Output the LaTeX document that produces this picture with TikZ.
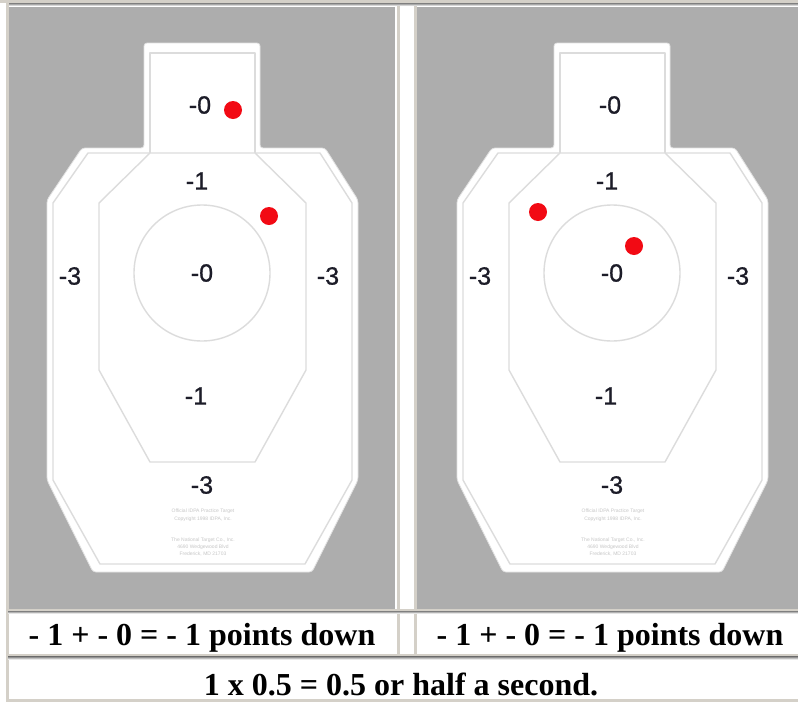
\documentclass[tikz,border=0pt]{standalone}
\usepackage{fontspec}
\setmainfont{Liberation Serif}
\newfontfamily\lblfont[FakeBold=0.8]{Liberation Sans}
\newfontfamily\notefont{Liberation Sans}
\usetikzlibrary{positioning}
\definecolor{bg}{HTML}{ADADAD}
\definecolor{frame}{HTML}{D4D0C8}
\definecolor{shade}{HTML}{858585}
\definecolor{zone}{HTML}{DCDCDC}
\definecolor{hit}{HTML}{F20A14}
\definecolor{ink}{HTML}{1C1C28}

\begin{document}
\begin{tikzpicture}[x=1pt,y=-1pt,
  lbl/.style={font=\lblfont\fontsize{25}{25}\selectfont,text=ink,inner sep=0pt},
  fine/.style={font=\notefont\fontsize{5}{5}\selectfont,text=black!22,inner sep=0pt},
  captext/.style={font=\bfseries\fontsize{32}{32}\selectfont,inner sep=0pt,anchor=base},
  shot/.style={circle,fill=hit,minimum size=18pt,inner sep=0pt},
  zoneline/.style={draw=zone,line width=1.4pt,line join=round}]
\useasboundingbox (0,0) rectangle (798,702);
\fill[white] (0,0) rectangle (798,702);
% table frame
\fill[frame] (0,0) rectangle (798,3);
\fill[shade] (7,3) rectangle (798,6);
\fill[frame] (6,3) rectangle (8.5,702);
\fill[frame] (6,699) rectangle (798,702);
\fill[bg] (9,7) rectangle (395,609);
\fill[bg] (417,7) rectangle (798,609);
\fill[frame] (396.5,6) rectangle (399.5,657);
\fill[frame] (413.5,6) rectangle (416.5,657);
\fill[frame] (8,609) rectangle (798,611);
\fill[shade] (8,611) rectangle (798,613.5);
\fill[frame] (8,654) rectangle (798,656.5);
\fill[shade] (8,656.5) rectangle (798,659.5);
% targets
\foreach \ox/\p in {0/L,410/R}{
\begin{scope}[xshift=\ox]
\filldraw[fill=white,draw=white!88!black,line width=0.8pt,rounded corners=3pt]
  (144,43) -- (260,43) -- (260,148) -- (325,148) -- (358,200) -- (358,480)
  -- (312,572) -- (93,572) -- (47,480) -- (47,200) -- (82,148) -- (144,148) -- cycle;
\draw[zoneline] (150,153) -- (150,53) -- (255,53) -- (255,153);
\draw[zoneline] (88,153) -- (320,153) -- (352,203) -- (352,480) -- (305,564)
  -- (100,564) -- (53,480) -- (53,203) -- cycle;
\draw[zoneline] (150,153) -- (99,203) -- (99,370) -- (150,462) -- (255,462)
  -- (306,370) -- (306,203) -- (255,153);
\draw[zoneline] (202,273) circle (68);
\node[lbl] (\p-head) at (200,105) {-0};
\node[lbl] (\p-upper) at (197,181) {-1};
\node[lbl] (\p-left) at (70,276) {-3};
\node[lbl] (\p-centre) at (202,273) {-0};
\node[lbl] (\p-right) at (328,276) {-3};
\node[lbl] (\p-lower) at (196,396) {-1};
\node[lbl] (\p-bottom) at (202,485) {-3};
\node[fine] (\p-note1) at (203,511) {Official IDPA Practice Target};
\node[fine] (\p-note2) at (203,519) {Copyright 1998 IDPA, Inc.};
\node[fine] (\p-note3) at (203,540) {The National Target Co., Inc.};
\node[fine] (\p-note4) at (203,547) {4690 Wedgewood Blvd};
\node[fine] (\p-note5) at (203,554) {Frederick, MD 21703};
\end{scope}
}
% hits
\node[shot] (L-hit1) at (233,110) {};
\node[shot] (L-hit2) at (269,216) {};
\node[shot] (R-hit1) at (538,212) {};
\node[shot] (R-hit2) at (634,246) {};
% captions
\node[captext] (L-cap) at (202,645) {- 1 + - 0 = - 1 points down};
\node[captext] (R-cap) at (610,645) {- 1 + - 0 = - 1 points down};
\node[captext] (total) at (401,695) {1 x 0.5 = 0.5 or half a second.};
\end{tikzpicture}
\end{document}
